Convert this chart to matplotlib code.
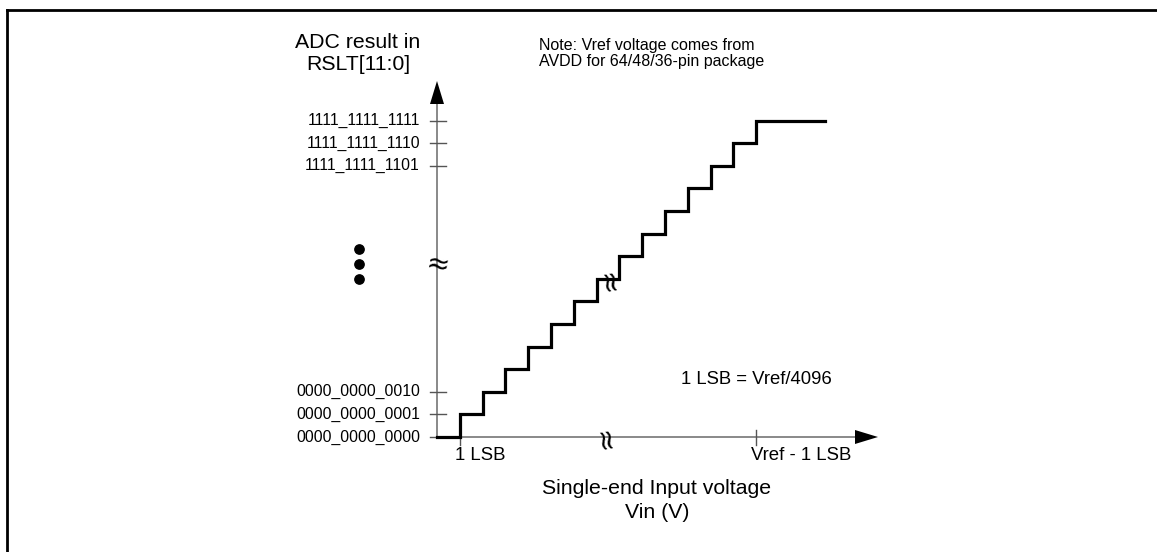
import matplotlib
matplotlib.use("Agg")
import matplotlib.pyplot as plt
from matplotlib.lines import Line2D

plt.rcParams['font.family'] = ['Liberation Sans', 'DejaVu Sans']

# staircase: code level reached at each LSB step, flat after Vref - 1 LSB
step_x = [0, 1, 2, 3, 4, 5, 6, 7, 8, 9, 10, 11, 12, 13, 14, 17]
step_y = [0, 1, 2, 3, 4, 5, 6, 7, 8, 9, 10, 11, 12, 13, 14, 14]

ytick_pos = [0, 1, 2, 12, 13, 14]
ytick_labels = ["0000_0000_0000", "0000_0000_0001", "0000_0000_0010",
                "1111_1111_1101", "1111_1111_1110", "1111_1111_1111"]
xtick_pos = [1, 14]
xtick_labels = ["1 LSB", "Vref - 1 LSB"]

W, H = 1157, 552
X0, Y0 = 437, 437      # origin in pixels
DX, DY = 22.8, 22.6    # pixels per step

fig = plt.figure(figsize=(W / 100, H / 100), dpi=100)
ax = fig.add_axes([0, 0, 1, 1])
ax.set_xlim(-X0 / DX, (W - X0) / DX)
ax.set_ylim((Y0 - H) / DY, Y0 / DY)
ax.axis('off')

def px(x):
    return (x - X0) / DX

def py(y):
    return (Y0 - y) / DY

axis_col = '#808080'
tick_col = '#555555'

# axes lines + arrow heads
ax.plot([0, px(860)], [0, 0], color=axis_col, lw=1.3, zorder=1)
ax.plot([0, 0], [0, py(102)], color=axis_col, lw=1.3, zorder=1)
ax.fill([px(855), px(878), px(855)], [py(430), 0, py(444)], color='black', lw=0)
ax.fill([px(430), 0, px(444)], [py(104), py(81), py(104)], color='black', lw=0)

# y ticks
for v, lab in zip(ytick_pos, ytick_labels):
    ax.plot([px(430), px(446)], [v, v], color=tick_col, lw=1.0, zorder=1)
    ax.text(px(420), v, lab, ha='right', va='center', fontsize=11.3)

# x ticks
for u, lab in zip(xtick_pos, xtick_labels):
    ax.plot([u, u], [py(430), py(445)], color=tick_col, lw=1.0, zorder=1)
    ax.text(u - 0.22, py(455), lab, ha='left', va='center', fontsize=13.4)

# transfer curve
ax.plot(step_x, step_y, drawstyle='steps-post', color='black', lw=2.3,
        solid_joinstyle='miter', zorder=3)

# break marks
brk = dict(ha='center', va='center', fontsize=20, family=['DejaVu Sans'],
           zorder=4)
ax.text(0, py(265), '≈', rotation=-10, **brk)
ax.text(px(605), 0, '≈', rotation=100, **brk)
ax.text(px(609), py(279), '≈', rotation=100, **brk)

# vertical ellipsis
ax.scatter([px(359)] * 3, [py(249), py(264), py(279)], s=45, color='black',
           zorder=4)

# labels
ax.text(px(358), py(42), 'ADC result in', ha='center', va='center', fontsize=15.3)
ax.text(px(358), py(65), 'RSLT[11:0]', ha='center', va='center', fontsize=15.3)
ax.text(px(539), py(38), 'Note: Vref voltage comes from\nAVDD for 64/48/36-pin package',
        ha='left', va='top', fontsize=11.5, linespacing=1.1)
ax.text(px(756), py(380), '1 LSB = Vref/4096', ha='center', va='center', fontsize=13.3)
ax.text(px(657), py(488), 'Single-end Input voltage', ha='center', va='center',
        fontsize=15.3)
ax.text(px(657), py(513), 'Vin (V)', ha='center', va='center', fontsize=15.3)

# partial frame (top and left edges)
fig.add_artist(Line2D([7 / W, 1], [1 - 10 / H, 1 - 10 / H], color='black', lw=2))
fig.add_artist(Line2D([7 / W, 7 / W], [0, 1 - 10 / H], color='black', lw=2))

fig.savefig('out.png', dpi=100)
